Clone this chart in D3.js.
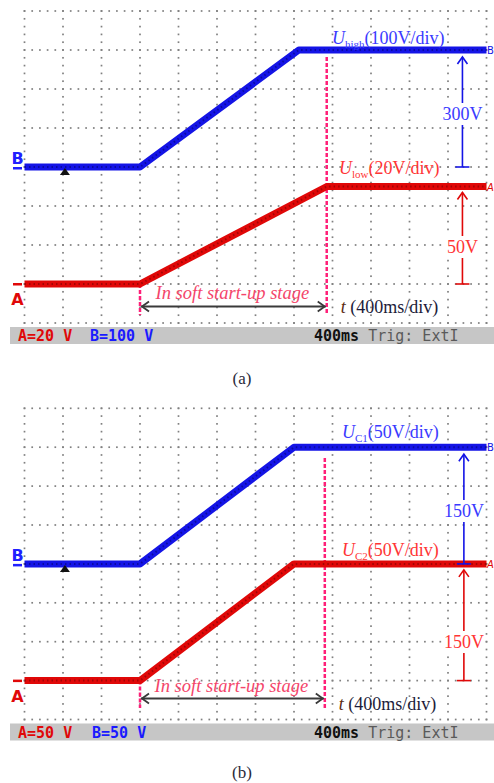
<!DOCTYPE html>
<html><head><meta charset="utf-8">
<script src="https://cdn.jsdelivr.net/npm/d3@7"></script>
<style>
html,body{margin:0;padding:0;background:#fff;}
svg{display:block;}
</style></head><body>
<svg id="chart" width="494" height="783"></svg>
<script>
// ---------------- data ----------------
const captions = ["(a)", "(b)"];
const statusA = ["A=20 V", "A=50 V"];
const statusB = ["B=100 V", "B=50 V"];
const statusTime = "400ms";
const statusTrig = "Trig: ExtI";
const msPerDiv = 400;
const voltsPerDivA = [20, 50];
const voltsPerDivB = [100, 50];
// channel B (upper, blue) traces : time (ms), voltage (V) above marker
const highTime = [[0, 1200, 2850, 4800], [0, 1200, 2800, 4800]];
const highVolt = [[0, 0, 300, 300], [0, 0, 150, 150]];
// channel A (lower, red) traces
const lowTime = [[0, 1200, 3140, 4800], [0, 1200, 2800, 4800]];
const lowVolt = [[0, 0, 50, 50], [0, 0, 150, 150]];
const softStartBegin = [1200, 1200];
const softStartEnd = [3140, 3120];
const triggerTime = [420, 420];
const stepTime = [4550, 4565];
const stepHigh = [300, 150];
const stepLow = [50, 150];
const stepHighLabel = ["300V", "150V"];
const stepLowLabel = ["50V", "150V"];
const highSub = ["high", "C1"];
const highRest = ["(100V/div)", "(50V/div)"];
const lowSub = ["low", "C2"];
const lowRest = ["(20V/div)", "(50V/div)"];
const softLabel = "In soft start-up stage";
const timeLabel = "(400ms/div)";

// ---------------- layout ----------------
const nDivX = 12, nDivY = 8, dx = 38.5;
const layout = [
  {x0: 24.5, y0: 11, dy: 39, hiLblY: 38, loLblY: 168, hiStepTxt: 114, loStepTxt: 247,
   softTxtY: 293, arrowY: 306.5, tLblY: 306.5, pinkTop: 57, pinkBot: 315, capY: 378},
  {x0: 24.5, y0: 408.3, dy: 38.9, hiLblY: 432, loLblY: 550, hiStepTxt: 511, loStepTxt: 642,
   softTxtY: 686, arrowY: 698.5, tLblY: 704, pinkTop: 458, pinkBot: 708, capY: 772}
];

const svg = d3.select("#chart");
const BLUE = "#1414e6", RED = "#e00808";
const BLUE_T = "#3a3aff", RED_T = "#ff3535", PINK = "#ff1f78", PINK_T = "#f4456a";
const serif = "'Liberation Serif','Times New Roman',serif";
const mono = "'DejaVu Sans Mono',monospace";

layout.forEach((L, p) => {
  const g = svg.append("g");
  const x = d3.scaleLinear().domain([0, nDivX * msPerDiv]).range([L.x0, L.x0 + nDivX * dx]);
  const row = r => L.y0 + r * L.dy;
  const yB = d3.scaleLinear().domain([0, voltsPerDivB[p]]).range([row(4), row(3)]);
  const yA = d3.scaleLinear().domain([0, voltsPerDivA[p]]).range([row(7), row(6)]);

  // grid dots
  const dots = [];
  for (let i = 0; i <= nDivX; i++)
    for (let j = 0; j <= nDivY * 5; j++) dots.push([L.x0 + i * dx, L.y0 + j * L.dy / 5]);
  for (let j = 0; j <= nDivY; j++)
    for (let i = 0; i <= nDivX * 5; i++) dots.push([L.x0 + i * dx / 5, L.y0 + j * L.dy]);
  g.append("g").selectAll("rect").data(dots).join("rect")
    .attr("x", d => d[0] - 0.85).attr("y", d => d[1] - 0.85)
    .attr("width", 1.7).attr("height", 1.7).attr("fill", "#808080");

  // status bar
  const barY = row(8) + 4;
  g.append("rect").attr("x", 10).attr("y", barY).attr("width", 484).attr("height", 17).attr("fill", "#c6c6c6");
  const st = g.append("g").attr("font-family", mono).attr("font-weight", "bold").attr("font-size", 15);
  st.append("text").attr("x", 18).attr("y", barY + 14).attr("fill", RED).text(statusA[p]);
  st.append("text").attr("x", p ? 92 : 90).attr("y", barY + 14).attr("fill", "#1a1aff").text(statusB[p]);
  const tt = st.append("text").attr("x", 314).attr("y", barY + 14);
  tt.append("tspan").attr("fill", "#111").text(statusTime + " ");
  tt.append("tspan").attr("fill", "#5a5a5a").attr("font-weight", "normal").text(statusTrig);

  // pink dashed markers
  const xs = x(softStartBegin[p]), xe = x(softStartEnd[p]);
  g.append("line").attr("x1", xe).attr("x2", xe).attr("y1", L.pinkTop).attr("y2", L.pinkBot)
    .attr("stroke", PINK).attr("stroke-width", 2.5).attr("stroke-dasharray", "4 2");
  g.append("line").attr("x1", xs).attr("x2", xs).attr("y1", yA(0)).attr("y2", L.pinkBot)
    .attr("stroke", PINK).attr("stroke-width", 2.5).attr("stroke-dasharray", "4 2");

  // traces
  const drawTrace = (ts, vs, y, col, dark) => {
    const pts = ts.map((t, i) => [t, vs[i]]);
    const line = d3.line().x(d => x(d[0])).y(d => y(d[1]));
    g.append("path").attr("d", line(pts)).attr("fill", "none").attr("stroke", col)
      .attr("stroke-width", 7).attr("stroke-linejoin", "round");
    g.append("path").attr("d", line(pts)).attr("fill", "none").attr("stroke", dark)
      .attr("stroke-width", 2).attr("stroke-dasharray", "1.5 3").attr("opacity", 0.5);
  };
  drawTrace(lowTime[p], lowVolt[p], yA, RED, "#6a0000");
  drawTrace(highTime[p], highVolt[p], yB, BLUE, "#000060");

  // trigger triangle
  const tx = x(triggerTime[p]), ty = yB(0);
  g.append("path").attr("d", `M${tx - 5},${ty + 8}L${tx},${ty + 1}L${tx + 5},${ty + 8}Z`).attr("fill", "#111");

  // channel markers left
  g.append("text").attr("x", 17.5).attr("y", yB(0) - 3).attr("text-anchor", "middle")
    .attr("font-family", "'DejaVu Sans',sans-serif").attr("font-weight", "bold").attr("font-size", 16)
    .attr("fill", "#2020ff").text("B");
  g.append("rect").attr("x", 13).attr("y", yB(0)).attr("width", 9).attr("height", 2.5).attr("fill", "#2020ff");
  g.append("rect").attr("x", 13).attr("y", yA(0) - 1).attr("width", 9).attr("height", 2.5).attr("fill", RED);
  g.append("text").attr("x", 17.5).attr("y", yA(0) + 21).attr("text-anchor", "middle")
    .attr("font-family", "'DejaVu Sans',sans-serif").attr("font-weight", "bold").attr("font-size", 16)
    .attr("fill", RED).text("A");
  // channel markers right (small, at the edge)
  g.append("text").attr("x", 487).attr("y", yB(stepHigh[p]) + 4)
    .attr("font-family", "'DejaVu Sans',sans-serif").attr("font-size", 10).attr("fill", BLUE).text("B");
  g.append("text").attr("x", 487).attr("y", yA(stepLow[p]) + 4)
    .attr("font-family", "'DejaVu Sans',sans-serif").attr("font-style", "italic").attr("font-size", 10).attr("fill", RED).text("A");

  // step arrows
  const stepArrow = (yTop, yBot, col, label, ty) => {
    const ax = x(stepTime[p]);
    g.append("line").attr("x1", ax).attr("x2", ax).attr("y1", yTop).attr("y2", yBot)
      .attr("stroke", col).attr("stroke-width", 1.6);
    g.append("path").attr("d", `M${ax - 5},${yTop + 7}L${ax},${yTop}L${ax + 5},${yTop + 7}`)
      .attr("fill", "none").attr("stroke", col).attr("stroke-width", 1.6);
    g.append("line").attr("x1", ax - 7).attr("x2", ax + 7).attr("y1", yBot).attr("y2", yBot)
      .attr("stroke", col).attr("stroke-width", 1.6);
    g.append("rect").attr("x", ax - 20).attr("y", ty - 11).attr("width", 40).attr("height", 22).attr("fill", "#fff");
    g.append("text").attr("x", ax).attr("y", ty).attr("dy", "0.35em").attr("text-anchor", "middle")
      .attr("font-family", serif).attr("font-size", 18).attr("fill", col === BLUE ? BLUE_T : RED_T).text(label);
  };
  stepArrow(yB(stepHigh[p]) + 7, yB(0), BLUE, stepHighLabel[p], L.hiStepTxt);
  stepArrow(yA(stepLow[p]) + 6, yA(0), RED, stepLowLabel[p], L.loStepTxt);

  // soft start double arrow
  const ay = L.arrowY;
  g.append("line").attr("x1", xs + 1).attr("x2", xe - 1).attr("y1", ay).attr("y2", ay)
    .attr("stroke", "#3a3a3a").attr("stroke-width", 1.8);
  g.append("path").attr("d", `M${xs + 9},${ay - 5}L${xs + 2},${ay}L${xs + 9},${ay + 5}M${xe - 9},${ay - 5}L${xe - 2},${ay}L${xe - 9},${ay + 5}`)
    .attr("fill", "none").attr("stroke", "#3a3a3a").attr("stroke-width", 1.8);
  g.append("text").attr("x", (xs + xe) / 2 - 1).attr("y", L.softTxtY).attr("dy", "0.35em")
    .attr("text-anchor", "middle").attr("font-family", serif).attr("font-style", "italic")
    .attr("font-size", 18.5).attr("fill", PINK_T).text(softLabel);

  // time label
  const tl = g.append("text").attr("x", xe + 14).attr("y", L.tLblY).attr("dy", "0.35em")
    .attr("font-family", serif).attr("font-size", 18).attr("fill", "#1c1c3a");
  tl.append("tspan").attr("font-style", "italic").attr("fill", "#5a2a10").text("t");
  tl.append("tspan").text(" " + timeLabel);

  // channel labels
  const chLabel = (yy, col, sub, rest, x0) => {
    const t = g.append("text").attr("x", x0).attr("y", yy).attr("dy", "0.35em")
      .attr("font-family", serif).attr("font-size", 18).attr("fill", col);
    t.append("tspan").attr("font-style", "italic").text("U");
    t.append("tspan").attr("font-size", 11).attr("dy", 4).text(sub);
    t.append("tspan").attr("dy", -4).text(rest);
  };
  chLabel(L.hiLblY, BLUE_T, highSub[p], highRest[p], p ? 342 : 332);
  chLabel(L.loLblY, RED_T, lowSub[p], lowRest[p], p ? 342 : 339);

  // caption
  g.append("text").attr("x", 242).attr("y", L.capY).attr("dy", "0.35em").attr("text-anchor", "middle")
    .attr("font-family", serif).attr("font-size", 17).attr("fill", "#2a2a3a").text(captions[p]);
});
</script>
</body></html>
